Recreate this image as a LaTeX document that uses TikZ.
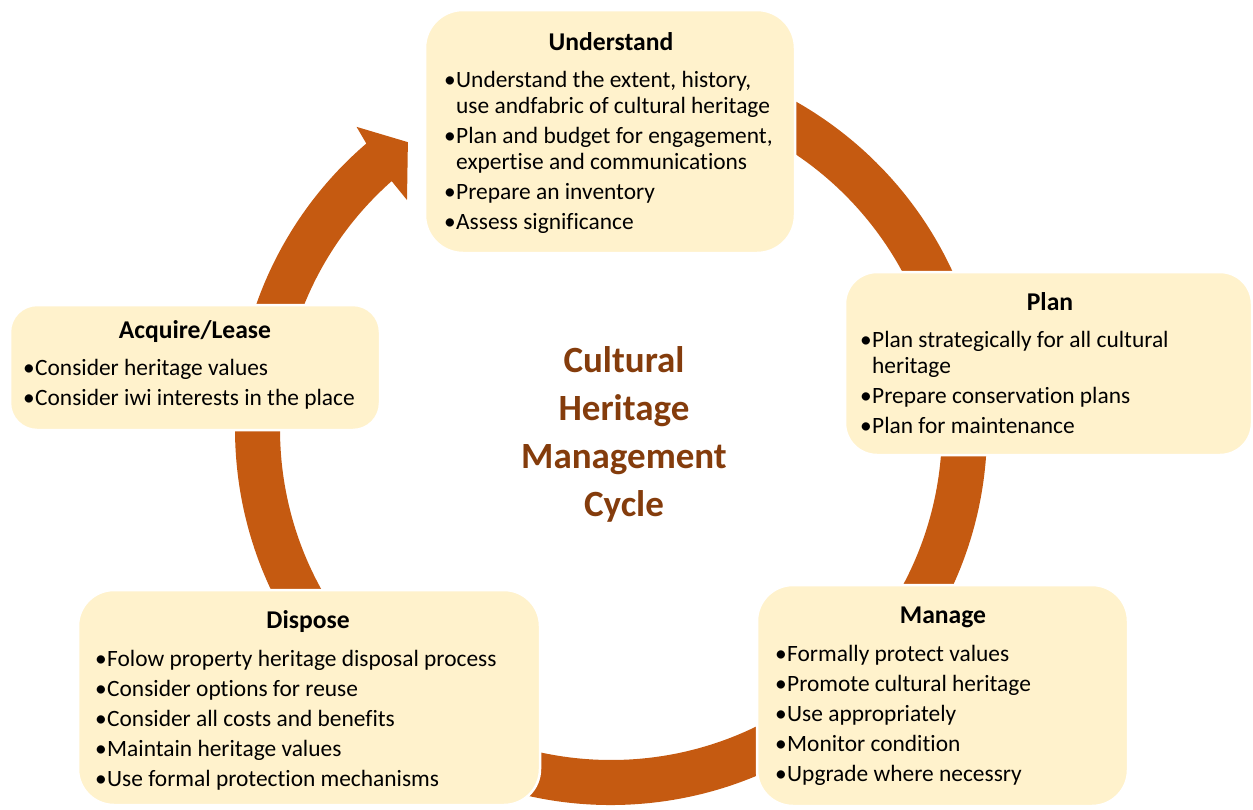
\documentclass[tikz,border=0pt]{standalone}
\usepackage{fontspec}
\setmainfont[Ligatures=CommonOff]{Carlito}

\definecolor{ringorange}{HTML}{C55A11}
\definecolor{boxfill}{HTML}{FFF2CC}
\definecolor{titlebrown}{HTML}{843C0C}

% type sizes (1 unit = 1pt)
\newcommand\bodysize{\fontsize{23.4}{26}\selectfont}
\newcommand\headsize{\fontsize{25.6}{28}\selectfont\bfseries}
\newcommand\titlesize{\fontsize{37}{48}\selectfont\bfseries}
% one bulleted item, bullet hung to the left of the text
\newcommand\itm[1]{\par\noindent\llap{•\hspace{0.5pt}}#1}
\newcommand\itemlist[1]{\parbox[t]{400pt}{\bodysize\parskip=4pt\relax #1}}

\tikzset{
  stagebox/.style={fill=boxfill, draw=white, line width=2.5pt, inner sep=0pt},
  heading/.style={anchor=base, inner sep=0pt, font=\headsize},
  bullets/.style={anchor=base west, inner sep=0pt},
  ring/.style={fill=ringorange},
}

\begin{document}
\begin{tikzpicture}[x=1pt, y=1pt]
\useasboundingbox (0,0) rectangle (1253,-809);

% cycle ring with its arrowhead
\begin{scope}[shift={(611,-429)}]
  \fill[ring] (95:376) arc[start angle=95, end angle=-229.4, radius=376]
    -- (-229.9:395) -- (-234.7:351.5) -- (-228.3:306.7)
    -- (-228.5:331) arc[start angle=-228.5, end angle=95, radius=331] -- cycle;
\end{scope}

% stage boxes
\node[stagebox, rounded corners=38pt, minimum width=370pt, minimum height=243pt] (understand) at (610,-131.5) {};
\node[stagebox, rounded corners=32pt, minimum width=407pt, minimum height=183pt] (plan) at (1048.5,-363.5) {};
\node[stagebox, rounded corners=36pt, minimum width=371pt, minimum height=221pt] (manage) at (942.5,-695.5) {};
\node[stagebox, rounded corners=36pt, minimum width=462pt, minimum height=215pt] (dispose) at (309,-697.5) {};
\node[stagebox, rounded corners=27pt, minimum width=370pt, minimum height=125pt] (acquire) at (195,-367.5) {};

% Understand
\node[heading] (understandhead) at (611,-50) {Understand};
\node[bullets] (understandlist) at (456,-87) {\itemlist{%
  \itm{Understand the extent, history,\newline use andfabric of cultural heritage}
  \itm{Plan and budget for engagement,\newline expertise and communications}
  \itm{Prepare an inventory}
  \itm{Assess significance}}};

% Plan
\node[heading] (planhead) at (1050,-310) {Plan};
\node[bullets] (planlist) at (872,-347) {\itemlist{%
  \itm{Plan strategically for all cultural\newline heritage}
  \itm{Prepare conservation plans}
  \itm{Plan for maintenance}}};

% Manage
\node[heading] (managehead) at (943,-623) {Manage};
\node[bullets] (managelist) at (787,-661) {\itemlist{%
  \itm{Formally protect values}
  \itm{Promote cultural heritage}
  \itm{Use appropriately}
  \itm{Monitor condition}
  \itm{Upgrade where necessry}}};

% Dispose
\node[heading] (disposehead) at (308,-628) {Dispose};
\node[bullets] (disposelist) at (107,-666) {\itemlist{%
  \itm{Folow property heritage disposal process}
  \itm{Consider options for reuse}
  \itm{Consider all costs and benefits}
  \itm{Maintain heritage values}
  \itm{Use formal protection mechanisms}}};

% Acquire/Lease
\node[heading] (acquirehead) at (195,-338) {Acquire/Lease};
\node[bullets] (acquirelist) at (35,-375) {\itemlist{%
  \itm{Consider heritage values}
  \itm{Consider iwi interests in the place}}};

% centre title
\node[anchor=base, inner sep=0pt, text=titlebrown] (title) at (624,-372)
  {\parbox[t]{300pt}{\centering\titlesize Cultural\\Heritage\\Management\\Cycle}};
\end{tikzpicture}
\end{document}
